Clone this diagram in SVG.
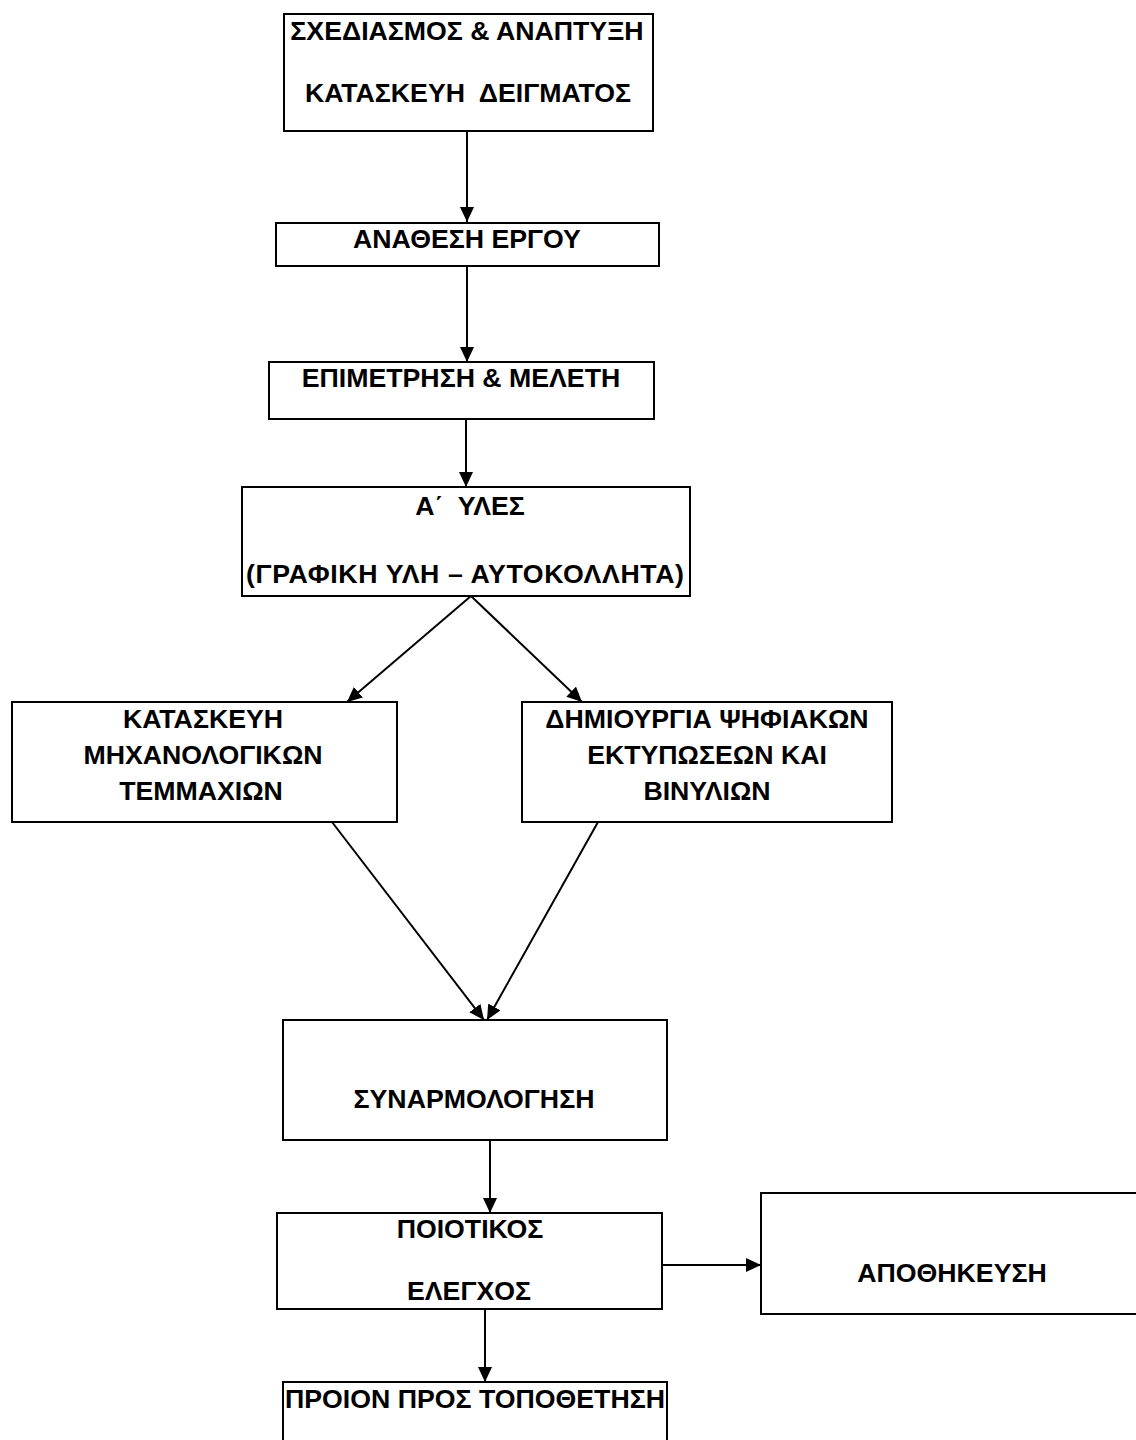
<svg xmlns="http://www.w3.org/2000/svg" width="1136" height="1440" viewBox="0 0 1136 1440">
<style>
.box{fill:#fff;stroke:#000;stroke-width:2}
.t{font-family:"Liberation Sans",Arial,sans-serif;font-weight:bold;font-size:26.7px;fill:#000;text-anchor:middle}
.c{stroke:#000;stroke-width:2;fill:none;marker-end:url(#ah)}
</style>
<defs>
<marker id="ah" markerUnits="userSpaceOnUse" markerWidth="15" markerHeight="14" refX="15" refY="7" orient="auto">
<path d="M0,0 L15,7 L0,14 z" fill="#000"/>
</marker>
</defs>
<rect width="1136" height="1440" fill="#fff"/>
<g id="connectors">
<line class="c" x1="467" y1="131" x2="467" y2="222"/>
<line class="c" x1="467" y1="266" x2="467" y2="362"/>
<line class="c" x1="466" y1="419" x2="466" y2="487"/>
<line class="c" x1="471" y1="596" x2="347" y2="702"/>
<line class="c" x1="471" y1="596" x2="582" y2="702"/>
<line class="c" x1="332" y1="822" x2="484" y2="1020"/>
<line class="c" x1="598" y1="822" x2="487" y2="1020"/>
<line class="c" x1="490" y1="1140" x2="490" y2="1213"/>
<line class="c" x1="485" y1="1309" x2="485" y2="1382"/>
<line class="c" x1="662" y1="1265" x2="761" y2="1265"/>
</g>
<g id="n1"><rect class="box" x="284" y="14" width="369" height="117"/>
<text class="t" x="467" y="40">ΣΧΕΔΙΑΣΜΟΣ &amp; ΑΝΑΠΤΥΞΗ</text>
<text class="t" x="468" y="102" xml:space="preserve">ΚΑΤΑΣΚΕΥΗ  ΔΕΙΓΜΑΤΟΣ</text></g>
<g id="n2"><rect class="box" x="276" y="223" width="383" height="43"/>
<text class="t" x="467" y="248">ΑΝΑΘΕΣΗ ΕΡΓΟΥ</text></g>
<g id="n3"><rect class="box" x="269" y="362" width="385" height="57"/>
<text class="t" x="461" y="387">ΕΠΙΜΕΤΡΗΣΗ &amp; ΜΕΛΕΤΗ</text></g>
<g id="n4"><rect class="box" x="242" y="487" width="448" height="109"/>
<text class="t" x="470" y="515" xml:space="preserve">Α΄  ΥΛΕΣ</text>
<text class="t" x="465" y="583" textLength="438" lengthAdjust="spacing">(ΓΡΑΦΙΚΗ ΥΛΗ – ΑΥΤΟΚΟΛΛΗΤΑ)</text></g>
<g id="n5"><rect class="box" x="12" y="702" width="385" height="120"/>
<text class="t" x="203" y="728">ΚΑΤΑΣΚΕΥΗ</text>
<text class="t" x="203" y="764">ΜΗΧΑΝΟΛΟΓΙΚΩΝ</text>
<text class="t" x="201" y="800">ΤΕΜΜΑΧΙΩΝ</text></g>
<g id="n6"><rect class="box" x="522" y="702" width="370" height="120"/>
<text class="t" x="707" y="728">ΔΗΜΙΟΥΡΓΙΑ ΨΗΦΙΑΚΩΝ</text>
<text class="t" x="707" y="764">ΕΚΤΥΠΩΣΕΩΝ ΚΑΙ</text>
<text class="t" x="707" y="800">ΒΙΝΥΛΙΩΝ</text></g>
<g id="n7"><rect class="box" x="283" y="1020" width="384" height="120"/>
<text class="t" x="474" y="1108">ΣΥΝΑΡΜΟΛΟΓΗΣΗ</text></g>
<g id="n8"><rect class="box" x="277" y="1213" width="385" height="96"/>
<text class="t" x="470" y="1238">ΠΟΙΟΤΙΚΟΣ</text>
<text class="t" x="469" y="1300">ΕΛΕΓΧΟΣ</text></g>
<g id="n9"><rect class="box" x="761" y="1193" width="390" height="121"/>
<text class="t" x="952" y="1282">ΑΠΟΘΗΚΕΥΣΗ</text></g>
<g id="n10"><rect class="box" x="283" y="1382" width="384" height="70"/>
<text class="t" x="475" y="1408">ΠΡΟΙΟΝ ΠΡΟΣ ΤΟΠΟΘΕΤΗΣΗ</text></g>
</svg>
